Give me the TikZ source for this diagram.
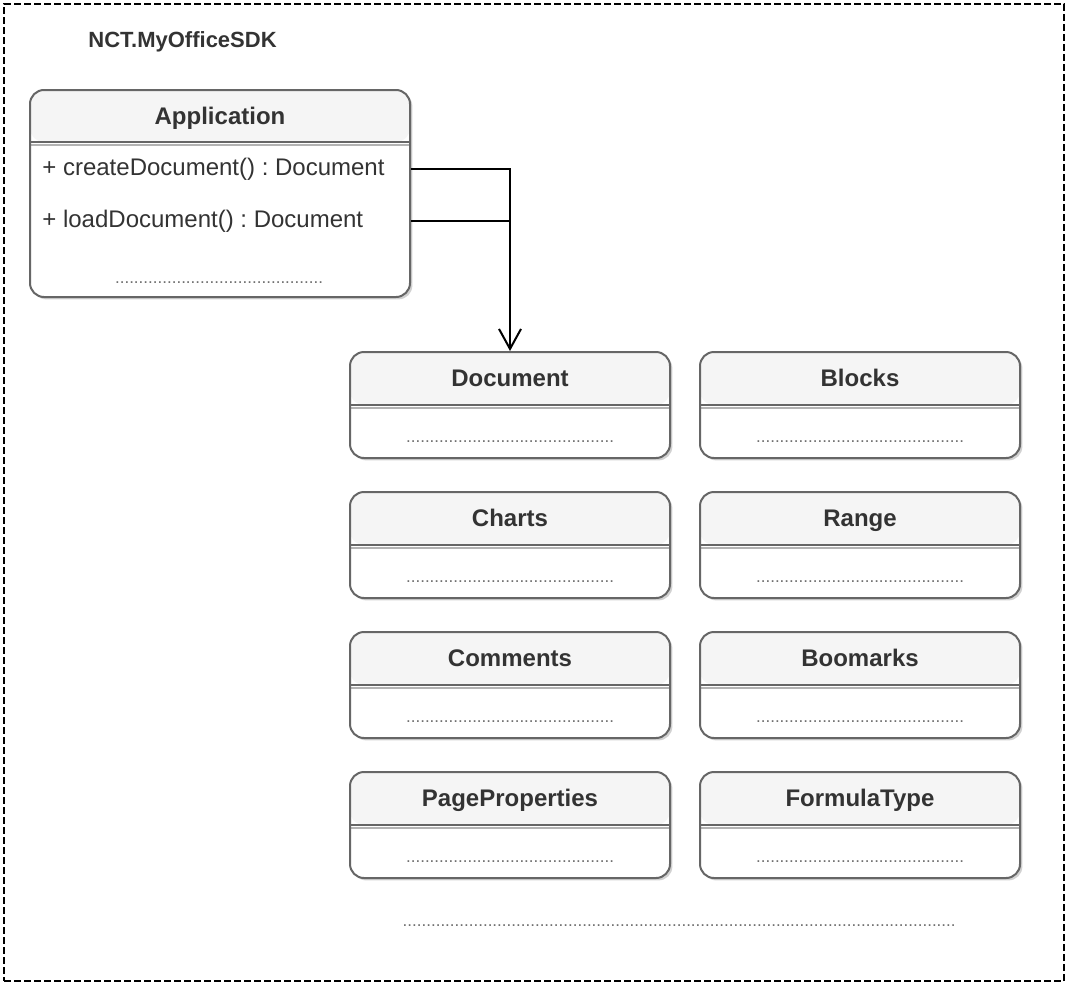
\documentclass[tikz,border=0pt]{standalone}
\usepackage{fontspec}
\setmainfont{Liberation Sans}
\usetikzlibrary{
  arrows.meta,
  positioning,
  shadows
}
\definecolor{ink}{HTML}{333333}
\definecolor{frame}{HTML}{666666}
\definecolor{head}{HTML}{F5F5F5}
\definecolor{sep}{HTML}{B3B3B3}
\definecolor{dotgray}{HTML}{707070}
\frenchspacing

\newcommand{\memberdots}{............................................}
\newcommand{\moredots}{.....................................................................................................................}

\begin{document}
\begin{tikzpicture}[
  x=0.5pt, y=-0.5pt,
  font=\fontsize{12}{14}\selectfont,
  text=ink,
  node distance=16pt and 14pt,
  package/.style={
    draw=black,
    line width=0.75pt,
    dash pattern=on 3.5pt off 1.5pt,
    minimum width=530pt,
    minimum height=488.5pt,
    inner sep=0pt
  },
  umlclass/.style={
    draw=frame,
    line width=1pt,
    rounded corners=7pt,
    fill=white,
    minimum width=160pt,
    minimum height=53pt,
    inner sep=0pt,
    drop shadow={shadow xshift=1.2pt, shadow yshift=-1.2pt, opacity=0.18, fill=black},
    path picture={
      \fill[head] (path picture bounding box.north west)
        rectangle ([yshift=-#1]path picture bounding box.north east);
      \draw[frame, line width=1pt] ([yshift=-#1]path picture bounding box.north west)
        -- ([yshift=-#1]path picture bounding box.north east);
      \draw[sep, line width=1pt] ([yshift=-#1-1.3pt]path picture bounding box.north west)
        -- ([yshift=-#1-1.3pt]path picture bounding box.north east);
    }
  },
  umlclass/.default=26.5pt,
  classname/.style={
    font=\fontsize{12}{14}\selectfont\bfseries,
    text height=9pt,
    text depth=0pt,
    minimum height=26.5pt,
    inner sep=0pt
  },
  member/.style={
    inner sep=0pt,
    anchor=west
  },
  dotrow/.style={
    font=\fontsize{8.5}{10}\selectfont,
    text=dotgray,
    inner sep=0pt,
    anchor=base
  },
  pkgtitle/.style={
    font=\fontsize{11}{13}\selectfont\bfseries,
    inner sep=0pt,
    anchor=west
  },
  link/.style={
    line width=1pt,
    draw=black
  }
]
\useasboundingbox (0,0) rectangle (1068,985);

% Package frame
\node[package] (sdk) at (534,492.5) {};
\node[pkgtitle] (pkg) at (88,42) {NCT.MyOfficeSDK};

% Application class
\node[umlclass=26pt, minimum width=190pt, minimum height=103.5pt] (app) at (220,193.5) {};
\node[classname, below=0pt of app.north] (appname) {Application};
\node[member] (create) at (42,169) {+ createDocument() : Document};
\node[member] (load) at (42,221) {+ loadDocument() : Document};
\node[dotrow] (appdots) at (219,283) {\memberdots};

% Classes
\node[umlclass] (document) at (510,405) {};
\node[umlclass, right=of document] (blocks) {};
\node[umlclass, below=of document] (charts) {};
\node[umlclass, right=of charts] (range) {};
\node[umlclass, below=of charts] (comments) {};
\node[umlclass, right=of comments] (bookmarks) {};
\node[umlclass, below=of comments] (pageprops) {};
\node[umlclass, right=of pageprops] (formula) {};

\node[classname, below=0pt of document.north] (documentname) {Document};
\node[classname, below=0pt of blocks.north] (blocksname) {Blocks};
\node[classname, below=0pt of charts.north] (chartsname) {Charts};
\node[classname, below=0pt of range.north] (rangename) {Range};
\node[classname, below=0pt of comments.north] (commentsname) {Comments};
\node[classname, below=0pt of bookmarks.north] (bookmarksname) {Boomarks};
\node[classname, below=0pt of pageprops.north] (pagepropsname) {PageProperties};
\node[classname, below=0pt of formula.north] (formulaname) {FormulaType};

\node[dotrow] (documentdots) at ([yshift=8.5pt]document.south) {\memberdots};
\node[dotrow] (blocksdots) at ([yshift=8.5pt]blocks.south) {\memberdots};
\node[dotrow] (chartsdots) at ([yshift=8.5pt]charts.south) {\memberdots};
\node[dotrow] (rangedots) at ([yshift=8.5pt]range.south) {\memberdots};
\node[dotrow] (commentsdots) at ([yshift=8.5pt]comments.south) {\memberdots};
\node[dotrow] (bookmarksdots) at ([yshift=8.5pt]bookmarks.south) {\memberdots};
\node[dotrow] (pagepropsdots) at ([yshift=8.5pt]pageprops.south) {\memberdots};
\node[dotrow] (formuladots) at ([yshift=8.5pt]formula.south) {\memberdots};

\node[dotrow] (moredots) at (679,926) {\moredots};

% Factory methods return a Document
\draw[link, -{Straight Barb[length=10pt, width=11pt]}] (create.east -| app.east) -| (document.north);
\draw[link] (load.east -| app.east) -- (load.east -| document.north);

\end{tikzpicture}
\end{document}
